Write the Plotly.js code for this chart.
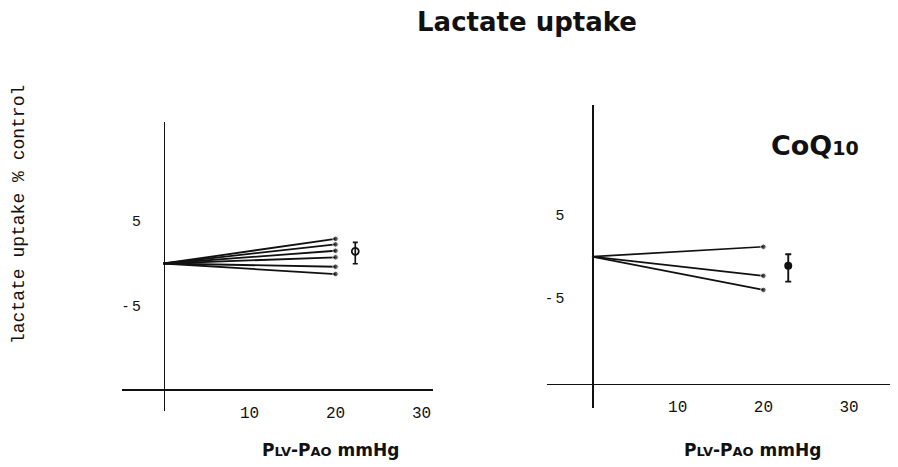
<!DOCTYPE html>
<html>
<head>
<meta charset="utf-8">
<script src="https://cdn.plot.ly/plotly-3.0.1.min.js"></script>
<style>html,body{margin:0;padding:0;background:#fff;}#chart{width:898px;height:467px;}</style>
</head>
<body>
<div id="chart"></div>
<script>
// ---- data ----
const xPoints = [0, 20];                       // PLV-PAO (mmHg)
const controlEnd = [2.9, 2.25, 1.5, 0.73, -0.38, -1.24];   // lactate uptake at 20 mmHg, control hearts
const coq10End = [1.2, -2.3, -4.0];            // lactate uptake at 20 mmHg, CoQ10 hearts
const controlMeanX = [22.3];
const controlMean = [1.43];
const controlErrPlus = [1.06];
const controlErrMinus = [1.46];
const coq10MeanX = [22.9];
const coq10Mean = [-1.1];
const coq10ErrPlus = [1.4];
const coq10ErrMinus = [1.9];
const xTickVals = [10, 20, 30];
const xTickText = ['10', '20', '30'];
const yTickVals = [5, -5];
const yTickText = ['5', '- 5'];

// ---- layout geometry (pixels of the 898x467 page) ----
const W = 898, H = 467;
const left = {x0px: 163.5, xs: 8.6, y0px: 263.5, ys: 8.5, xr: [-4.8, 31.3], yr: [-17.4, 16.6], xAxisAt: -14.8};
const right = {x0px: 592, xs: 8.57, y0px: 256.7, ys: 8.3, xr: [-5.2, 34.8], yr: [-18.2, 18.3], xAxisAt: -15.3};

function geom(p) {
  const px = v => p.x0px + v * p.xs;
  const py = v => p.y0px - v * p.ys;
  return {
    xdom: [px(p.xr[0]) / W, px(p.xr[1]) / W],
    ydom: [(H - py(p.yr[0])) / H, (H - py(p.yr[1])) / H],
    xpos: (H - py(p.xAxisAt)) / H,
    ypos: px(0) / W
  };
}
const gL = geom(left), gR = geom(right);

const traces = [];
controlEnd.forEach(v => traces.push({
  x: xPoints, y: [0, v], xaxis: 'x', yaxis: 'y', mode: 'lines+markers',
  line: {color: '#111', width: 1.8}, marker: {color: '#111', size: [0, 5.5]}, hoverinfo: 'skip'
}));
coq10End.forEach(v => traces.push({
  x: xPoints, y: [0, v], xaxis: 'x2', yaxis: 'y2', mode: 'lines+markers',
  line: {color: '#111', width: 1.7}, marker: {color: '#111', size: [0, 5.5]}, hoverinfo: 'skip'
}));
traces.push({
  x: controlMeanX, y: controlMean, xaxis: 'x', yaxis: 'y', mode: 'markers',
  marker: {symbol: 'circle-open', size: 7, color: '#111', line: {width: 1.8, color: '#111'}},
  error_y: {type: 'data', symmetric: false, array: controlErrPlus, arrayminus: controlErrMinus, color: '#111', thickness: 1.7, width: 2.5}
});
traces.push({
  x: coq10MeanX, y: coq10Mean, xaxis: 'x2', yaxis: 'y2', mode: 'markers',
  marker: {symbol: 'circle', size: 8, color: '#111'},
  error_y: {type: 'data', symmetric: false, array: coq10ErrPlus, arrayminus: coq10ErrMinus, color: '#111', thickness: 1.9, width: 3}
});

const xTickFont = {family: 'Liberation Mono, Courier New, monospace', size: 16, color: '#111'};
const yTickFont = {family: 'Liberation Sans, Arial, sans-serif', size: 15, color: '#111'};
function xax(g, r) {
  return {domain: g.xdom, range: r, anchor: 'free', position: g.xpos, showline: true, linecolor: '#111', linewidth: 1.6,
    showgrid: false, zeroline: false, ticks: '', tickvals: xTickVals, ticktext: xTickText, tickfont: xTickFont,
    ticklabelstandoff: 8, fixedrange: true};
}
function yax(g, r, standoff) {
  return {domain: g.ydom, range: r, anchor: 'free', position: g.ypos, showline: true, linecolor: '#111', linewidth: 1.6,
    showgrid: false, zeroline: false, ticks: '', tickvals: yTickVals, ticktext: yTickText, tickfont: yTickFont,
    ticklabelstandoff: standoff, fixedrange: true};
}

const labelFont = {family: 'DejaVu Sans, sans-serif', size: 17, color: '#111', weight: 'bold'};
const pLabel = 'P<span style="font-size:13px">LV</span>-P<span style="font-size:13px">AO</span> mmHg';

const layout = {
  width: W, height: H, margin: {l: 0, r: 0, t: 0, b: 0},
  paper_bgcolor: '#fff', plot_bgcolor: 'rgba(0,0,0,0)', showlegend: false,
  title: {text: 'Lactate uptake', x: 527 / W, xanchor: 'center', y: 1 - 22 / H, yanchor: 'middle',
    font: {family: 'DejaVu Sans, sans-serif', size: 26, color: '#111', weight: 'bold'}},
  xaxis: xax(gL, left.xr), yaxis: yax(gL, left.yr, 20),
  xaxis2: xax(gR, right.xr), yaxis2: yax(gR, right.yr, 25),
  annotations: [
    {text: 'lactate uptake % control', xref: 'paper', yref: 'paper', x: 19 / W, y: 1 - 215 / H,
      xanchor: 'center', yanchor: 'middle', textangle: -90, showarrow: false,
      font: {family: 'Liberation Mono, Courier New, monospace', size: 18, color: '#111'}},
    {text: pLabel, xref: 'paper', yref: 'paper', x: 330 / W, y: 1 - 450 / H, xanchor: 'center', yanchor: 'middle',
      showarrow: false, font: labelFont},
    {text: pLabel, xref: 'paper', yref: 'paper', x: 752 / W, y: 1 - 450 / H, xanchor: 'center', yanchor: 'middle',
      showarrow: false, font: labelFont},
    {text: 'CoQ<span style="font-size:19px">10</span>', xref: 'paper', yref: 'paper', x: 815 / W, y: 1 - 145 / H,
      xanchor: 'center', yanchor: 'middle', showarrow: false,
      font: {family: 'DejaVu Sans, sans-serif', size: 27, color: '#111', weight: 'bold'}}
  ]
};

Plotly.newPlot('chart', traces, layout, {staticPlot: true, displayModeBar: false});
</script>
</body>
</html>
